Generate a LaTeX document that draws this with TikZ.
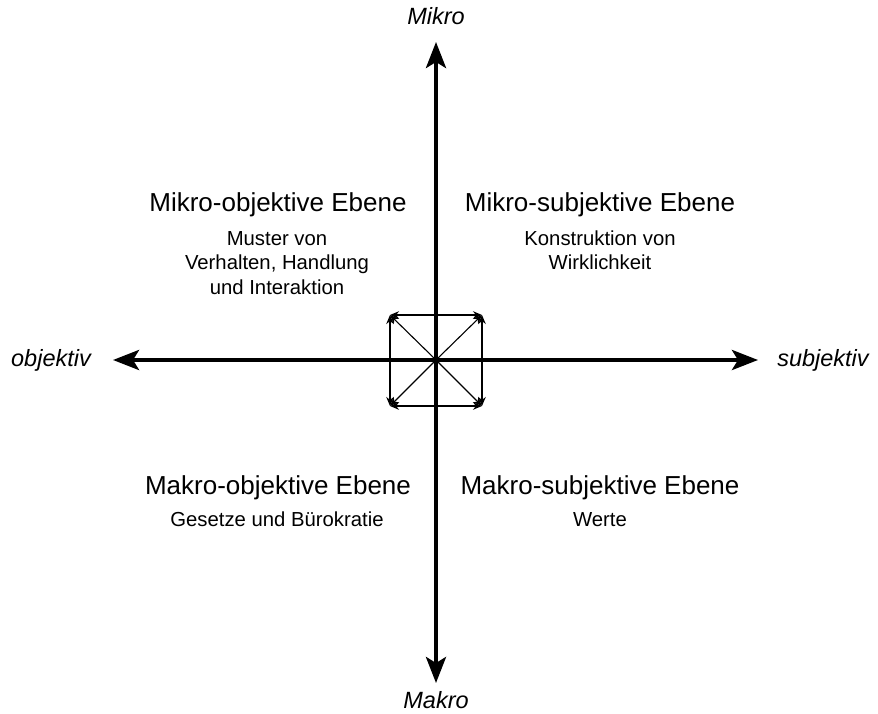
\documentclass[tikz,border=0pt]{standalone}
\usepackage{fontspec}
\setmainfont{Liberation Sans}
\usetikzlibrary{arrows.meta}
\begin{document}
\begin{tikzpicture}[x=1pt,y=-1pt,
  axis/.style={line width=4pt,-{Stealth[length=26pt,width=20pt,inset=6pt]}},
  small/.style={line width=1.1pt,{Stealth[length=9pt,width=7.5pt]}-{Stealth[length=9pt,width=7.5pt]}},
  diag/.style={line width=1.1pt,-{Stealth[length=9pt,width=7.5pt]}},
  title/.style={font=\fontsize{26}{30}\selectfont,inner sep=0pt},
  body/.style={font=\fontsize{20.3}{24.5}\selectfont,align=center,inner sep=0pt},
  lab/.style={font=\fontsize{23.5}{26}\selectfont\itshape}]
\useasboundingbox (0,0) rectangle (878,714);
\coordinate (c) at (436,360);
\coordinate (top) at (436,42);
\coordinate (bot) at (436,683);
\coordinate (lft) at (113,360);
\coordinate (rgt) at (758,360);
\draw[axis] (c) -- (top);
\draw[axis] (c) -- (bot);
\draw[axis] (c) -- (lft);
\draw[axis] (c) -- (rgt);
\coordinate (tl) at (390,315);
\coordinate (tr) at (482,315);
\coordinate (bl) at (390,406);
\coordinate (br) at (482,406);
\draw[small] (tl) -- (tr);
\draw[small] (bl) -- (br);
\draw[small] (tl) -- (bl);
\draw[small] (tr) -- (br);
\draw[diag] (c) -- (tl);
\draw[diag] (c) -- (tr);
\draw[diag] (c) -- (bl);
\draw[diag] (c) -- (br);
\node[lab] (mikro) at (436,16) {Mikro};
\node[lab] (makro) at (436,700) {Makro};
\node[lab] (obj) at (51,360) {objektiv};
\node[lab] (subj) at (823,360) {subjektiv};
\node[title,anchor=base] (mo) at (278,212) {Mikro-objektive Ebene};
\node[body,anchor=base] (mot) at (277,294) {Muster von\\Verhalten, Handlung\\und Interaktion};
\node[title,anchor=base] (ms) at (600,212) {Mikro-subjektive Ebene};
\node[body,anchor=base] (mst) at (600,269.5) {Konstruktion von\\Wirklichkeit};
\node[title,anchor=base] (ko) at (278,494) {Makro-objektive Ebene};
\node[body,anchor=base] (kot) at (277,526) {Gesetze und Bürokratie};
\node[title,anchor=base] (ks) at (600,494) {Makro-subjektive Ebene};
\node[body,anchor=base] (kst) at (600,526) {Werte};
\end{tikzpicture}
\end{document}
